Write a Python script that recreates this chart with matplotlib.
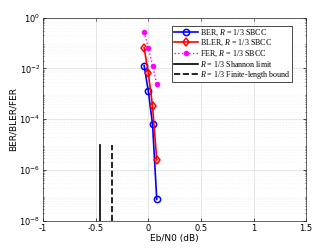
import numpy as np
import matplotlib
matplotlib.use("Agg")
from matplotlib import pyplot as plt

plt.rcParams['mathtext.fontset'] = 'custom'
plt.rcParams['mathtext.it'] = 'Liberation Serif:italic'
plt.rcParams['mathtext.rm'] = 'Liberation Serif'

ebn0 = [-0.04, 0.0, 0.04, 0.08]
ber = [1.3e-2, 1.26e-3, 6.3e-5, 7.0e-8]
bler = [6.6e-2, 6.5e-3, 3.3e-4, 2.5e-6]
fer = [2.7e-1, 6.6e-2, 1.3e-2, 2.5e-3]
shannon_x = -0.458
finite_x = -0.345
bound_y = [1e-8, 1e-5]

fig = plt.figure(figsize=(3.32, 2.49), dpi=100)
ax = fig.add_axes([0.13, 0.113, 0.792, 0.816])

ax.semilogy(ebn0, ber, 'o-', color='blue', lw=1.2, ms=4.5, mfc='none', mew=1.1,
            label=r'BER, $R$ = 1/3 SBCC')
ax.semilogy(ebn0, bler, 'd-', color='red', lw=1.2, ms=4.5, mfc='none', mew=1.1,
            label=r'BLER, $R$ = 1/3 SBCC')
ax.semilogy(ebn0, fer, 'o:', color='magenta', lw=1.0, ms=3.2, mfc='magenta', mew=0.8,
            label=r'FER, $R$ = 1/3 SBCC')
ax.semilogy([shannon_x, shannon_x], bound_y, '-', color='black', lw=1.2,
            label=r'$R$ = 1/3 Shannon limit')
ax.semilogy([finite_x, finite_x], bound_y, '--', color='black', lw=1.2,
            label=r'$R$ = 1/3 Finite-length bound')

ax.set_xlim(-1, 1.5)
ax.set_ylim(1e-8, 1e0)
ax.set_xticks([-1, -0.5, 0, 0.5, 1, 1.5])
ax.set_xticklabels(['-1', '-0.5', '0', '0.5', '1', '1.5'])
ax.set_yticks([1e-8, 1e-6, 1e-4, 1e-2, 1e0])
ax.grid(True, which='major', color='#dcdcdc', lw=0.5)
ax.grid(True, which='minor', axis='y', color='#ececec', lw=0.4, ls=':')
ax.tick_params(labelsize=6, length=2, width=0.5, direction='in', top=True, right=True, pad=2)
ax.tick_params(which='minor', length=1, width=0.4, direction='in', top=True, right=True)
for s in ax.spines.values():
    s.set_linewidth(0.5)
    s.set_color('#262626')
ax.set_xlabel('Eb/N0 (dB)', fontsize=6.5, labelpad=1)
ax.set_ylabel('BER/BLER/FER', fontsize=6.5, labelpad=1)

leg = ax.legend(loc='upper right', prop={'family': 'Liberation Serif', 'size': 5.8},
                fancybox=False, edgecolor='black', framealpha=1, handlelength=3.0,
                borderpad=0.2, labelspacing=0.0, handletextpad=0.2,
                borderaxespad=0, bbox_to_anchor=(0.947, 0.96))
leg.get_frame().set_linewidth(0.5)

fig.savefig('out.png', dpi=100)
